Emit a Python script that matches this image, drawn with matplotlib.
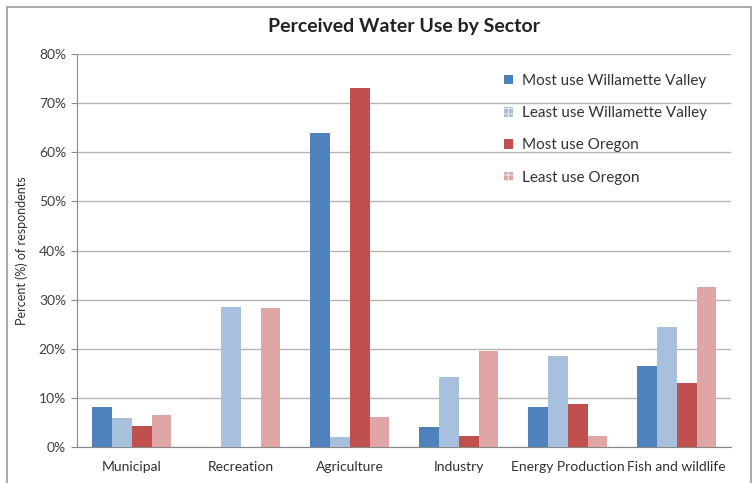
import matplotlib
matplotlib.use("agg")
import matplotlib.pyplot as plt
from matplotlib import rcParams
from matplotlib.patches import Patch, Rectangle
import numpy as np

rcParams['font.family'] = ["Lato", "DejaVu Sans"]
rcParams['hatch.color'] = 'white'
rcParams['hatch.linewidth'] = 0.5

sectors = ['Municipal', 'Recreation', 'Agriculture', 'Industry',
           'Energy Production', 'Fish and wildlife']
series_names = ['Most use Willamette Valley', 'Least use Willamette Valley',
                'Most use Oregon', 'Least use Oregon']
most_wv = [8.1, 0.0, 64.0, 4.1, 8.1, 16.4]
least_wv = [6.0, 28.6, 2.0, 14.3, 18.5, 24.5]
most_or = [4.3, 0.0, 73.0, 2.2, 8.7, 13.1]
least_or = [6.6, 28.3, 6.2, 19.5, 2.2, 32.6]
colors = ['#4F81BD', '#A7C0DE', '#C0504D', '#E0A6A5']

fig = plt.figure(figsize=(7.56, 4.83), dpi=100)
ax = fig.add_axes([0.102, 0.0745, 0.865, 0.8135])

x = np.arange(len(sectors))
bw = 0.183
all_vals = [most_wv, least_wv, most_or, least_or]
for i, vals in enumerate(all_vals):
    ax.bar(x + (i - 1.5) * bw, vals, width=bw, color=colors[i], zorder=3)

ax.set_xlim(-0.5, len(sectors) - 0.5)
ax.set_ylim(0, 80)
ax.set_yticks(np.arange(0, 81, 10))
ax.set_yticklabels([f"{v}%" for v in range(0, 81, 10)], fontsize=10, color='#404040')
ax.set_xticks(x)
ax.set_xticklabels(sectors, fontsize=10, color='#303030')
ax.tick_params(axis='x', length=0, pad=10)
ax.tick_params(axis='y', length=4, color='#888888', pad=4)
ax.grid(axis='y', color='#b4b4b4', lw=1.0, zorder=0)
for s in ['top', 'right']:
    ax.spines[s].set_visible(False)
for s in ['left', 'bottom']:
    ax.spines[s].set_color('#888888')
ax.set_ylabel("Percent (%) of respondents", fontsize=9, color='#303030', labelpad=8)

ax.set_title("Perceived Water Use by Sector", fontsize=14, fontweight='bold',
             color='#222222', pad=16)

hatches = [None, '+++', None, '+++']
handles = [Patch(facecolor=colors[i], hatch=hatches[i], label=series_names[i])
           for i in range(4)]
ax.legend(handles=handles, loc='upper right', bbox_to_anchor=(0.985, 0.985),
          frameon=False, fontsize=11, labelspacing=1.2, handlelength=0.6,
          handleheight=0.6, handletextpad=0.6, labelcolor='#333333')

fig.patches.append(Rectangle((0.009, -0.05), 0.985, 1.035, transform=fig.transFigure,
                             fill=False, edgecolor='#999999', lw=1.2))

fig.savefig("out.png", dpi=100)
